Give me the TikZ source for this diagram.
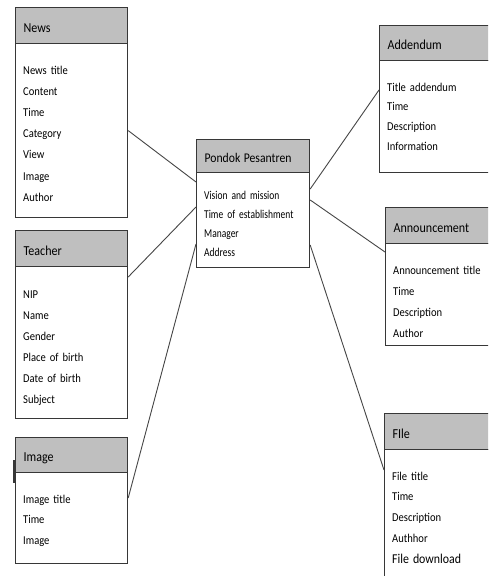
\documentclass[tikz,border=0pt]{standalone}
\usepackage{fontspec}
\setmainfont{Carlito}[FakeStretch=0.88]
\newfontfamily\condfont{Carlito}[FakeStretch=0.79]
\definecolor{boxc}{RGB}{55,55,55}
\definecolor{hdrc}{RGB}{191,191,191}
\definecolor{linec}{RGB}{70,70,70}
\begin{document}
\begin{tikzpicture}[x=1pt,y=-1pt,
  hdr/.style={draw=boxc, fill=hdrc, line width=1.2pt, anchor=north west,
    inner xsep=8pt, inner ysep=0pt, text height=13.4pt, text depth=0pt,
    font=\fontsize{13.7}{15}\selectfont, align=left},
  body/.style={draw=boxc, line width=1.2pt, anchor=north west, inner sep=0pt},
  txt/.style={anchor=north west, inner sep=0pt, align=left, text width=115pt,
    font=\fontsize{12}{#1}\selectfont},
  conn/.style={draw=linec, line width=0.9pt}]
\path[use as bounding box, clip] (0,0) rectangle (488,576);
\fill[white] (0,0) rectangle (488,576);

% News
\node[body, minimum width=112pt, minimum height=174pt] (news) at (15,43) {};
\node[hdr, text width=96pt, minimum height=36pt] (newsh) at (15,7) {News};
\node[txt=21.17pt] (newst) at (23,59.2) {\strut News title\\Content\\Time\\Category\\View\\Image\\Author};

% Teacher
\node[body, minimum width=112pt, minimum height=152pt] (teacher) at (15,266) {};
\node[hdr, text width=96pt, minimum height=36pt] (teacherh) at (15,230) {Teacher};
\node[txt=21pt] (teachert) at (23,283.3) {\strut NIP\\Name\\Gender\\Place of birth\\Date of birth\\Subject};

% Image
\node[body, minimum width=112pt, minimum height=91pt] (image) at (15,472) {};
\node[hdr, text width=96pt, minimum height=35pt] (imageh) at (15,437) {Image};
\node[txt=20.5pt] (imaget) at (23,488.6) {\strut Image title\\Time\\Image};
\draw[boxc, line width=1.8pt] (14.2,460) -- (14.2,483);

% Pondok Pesantren
\node[body, minimum width=113pt, minimum height=95pt] (pondok) at (196,172) {};
\node[hdr, text width=97pt, minimum height=33pt, font={\fontsize{13.3}{15}\selectfont}] (pondokh) at (196,139) {Pondok\kern-1pt\ Pesantren};
\node[txt=19pt, font={\condfont\fontsize{12}{19}\selectfont}] (pondokt) at (204,185.7) {\strut Vision and mission\\Time of establishment\\Manager\\Address};

% Addendum
\node[body, minimum width=130pt, minimum height=112pt] (add) at (379,60) {};
\node[hdr, text width=114pt, minimum height=35pt] (addh) at (379,25) {Addendum};
\node[txt=19.7pt] (addt) at (387,77.2) {\strut Title addendum\\Time\\Description\\Information};

% Announcement
\node[body, minimum width=130pt, minimum height=102pt] (ann) at (385,243) {};
\node[hdr, text width=114pt, minimum height=36pt] (annh) at (385,207) {Announcement};
\node[txt=21.2pt] (annt) at (393,259.2) {\strut Announcement title\\Time\\Description\\Author};

% File
\node[body, minimum width=130pt, minimum height=140pt] (file) at (384,449) {};
\node[hdr, text width=114pt, minimum height=36pt] (fileh) at (384,413) {FIle};
\node[txt=20.75pt] (filet) at (392,465.5) {\strut File title\\Time\\Description\\Authhor\\{\fontsize{13.5}{20.75}\selectfont File download}};

% connectors
\draw[conn] (news.east) -- ([yshift=-10pt]pondok.north west);
\draw[conn] ([yshift=-11pt]teacher.north east) -- ([yshift=-35pt]pondok.north west);
\draw[conn] ([yshift=-26pt]image.north east) -- ([yshift=-72pt]pondok.north west);
\draw[conn] ([yshift=-17pt]pondok.north east) -- ([yshift=-30pt]add.north west);
\draw[conn] ([yshift=-28pt]pondok.north east) -- ([yshift=-9pt]ann.north west);
\draw[conn] ([yshift=-73pt]pondok.north east) -- ([yshift=-21pt]file.north west);
\end{tikzpicture}
\end{document}
